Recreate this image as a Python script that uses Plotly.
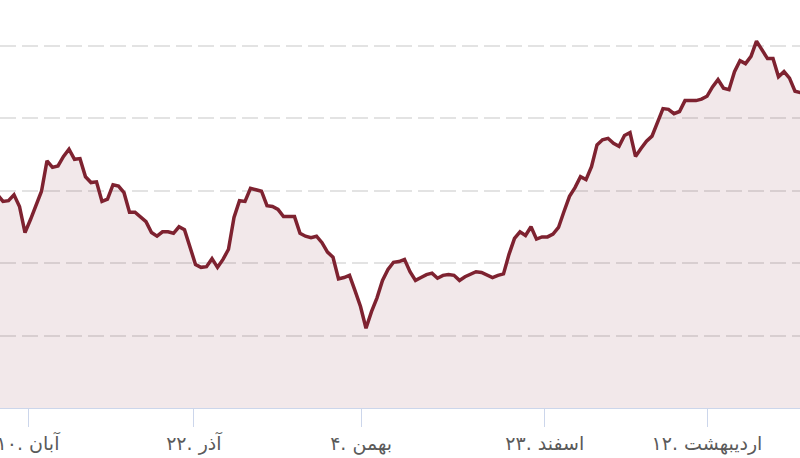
import plotly.graph_objects as go

# trading-day index (ordinal axis) and closing values
day_index = list(range(-1, 146))
values = [
    294, 285, 286, 294, 278, 242, 260, 278, 299, 341,
    332, 334, 347, 357, 343, 344, 319, 311, 312, 285,
    288, 308, 306, 297, 270, 270, 264, 257, 242, 237,
    243, 243, 241, 250, 246, 221, 198, 194, 195, 206,
    194, 205, 219, 263, 286, 285, 303, 301, 299, 279,
    278, 274, 264, 264, 264, 241, 237, 235, 237, 228,
    215, 208, 178, 180, 183, 162, 140, 110, 133, 152,
    176, 191, 201, 202, 205, 188, 176, 180, 184, 186,
    179, 183, 184, 183, 176, 181, 184, 188, 187, 183,
    180, 183, 185, 212, 234, 243, 238, 250, 233, 236,
    236, 240, 249, 271, 292, 304, 319, 315, 333, 363,
    370, 372, 365, 361, 376, 380, 347, 358, 368, 375,
    394, 413, 412, 406, 409, 424, 424, 424, 426, 430,
    443, 453, 441, 439, 464, 479, 475, 485, 506, 495,
    482, 482, 457, 464, 455, 437, 435,
]

tick_positions = [4.55, 34.7, 65.1, 98.5, 128.0]
tick_labels = ["۱۰. آبان", "۲۲. آذر", "۴. بهمن", "۲۳. اسفند", "۱۲. اردیبهشت"]

fig = go.Figure()
fig.add_trace(go.Scatter(
    x=day_index,
    y=values,
    mode="lines",
    line=dict(color="#7e2230", width=3.5),
    fill="tozeroy",
    fillcolor="rgba(126,34,48,0.1)",
    hoverinfo="skip",
))

fig.update_layout(
    width=800,
    height=458,
    margin=dict(l=0, r=0, t=0, b=50),
    paper_bgcolor="white",
    plot_bgcolor="white",
    showlegend=False,
    font=dict(family="DejaVu Sans", color="#5a5a5a", size=19),
)

fig.update_xaxes(
    range=[-0.545, 144.909],
    tickmode="array",
    tickvals=tick_positions,
    ticktext=tick_labels,
    ticks="outside",
    ticklen=18,
    tickwidth=1,
    tickcolor="#ccd6eb",
    showline=True,
    linecolor="#ccd6eb",
    linewidth=1,
    showgrid=False,
    zeroline=False,
    ticklabeloverflow="allow",
    automargin=False,
    tickfont=dict(size=19, color="#5a5a5a"),
)

fig.update_yaxes(
    range=[0, 562.8],
    tickmode="linear",
    tick0=0,
    dtick=100,
    showticklabels=False,
    showgrid=True,
    gridcolor="#e3e3e3",
    gridwidth=2,
    griddash="16px,6px",
    zeroline=False,
    automargin=False,
)

fig.write_html(
    "out.html",
    config={"displayModeBar": False},
    post_script="document.body.style.margin='0';document.body.style.overflow='hidden';",
)
